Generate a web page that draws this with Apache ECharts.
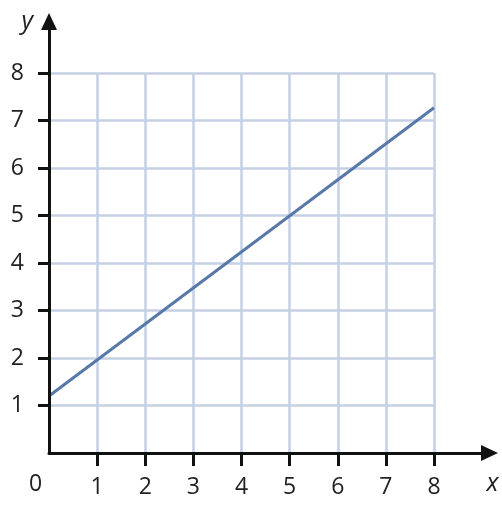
<!DOCTYPE html>
<html>
<head>
<meta charset="utf-8">
<script src="https://cdn.jsdelivr.net/npm/echarts@6/dist/echarts.min.js"></script>
<style>html,body{margin:0;padding:0;background:#fff}#c{width:502px;height:512px}</style>
</head>
<body>
<div id="c"></div>
<script>
// Data
var xValues = [0, 8];
var yValues = [1.2, 7.27];
var xTicks = [1, 2, 3, 4, 5, 6, 7, 8];
var yTicks = [1, 2, 3, 4, 5, 6, 7, 8];
var originLabel = '0';
var xName = 'x';
var yName = 'y';

var FONT = '"Open Sans", "DejaVu Sans", sans-serif';
var gridColor = '#c5d0e4';
var lineColor = '#5878aa';
var axisColor = '#111';

var chart = echarts.init(document.getElementById('c'), null, {renderer: 'canvas'});
var unitX = 385 / 8;
var unitY = 380 / 8;
var xMaxB = 440.5 / unitX;
var yMaxB = 431.5 / unitY;

var lineData = xValues.map(function (x, i) { return [x, yValues[i]]; });

chart.setOption({
  animation: false,
  backgroundColor: '#fff',
  grid: [
    {left: 49, top: 73, width: 385, height: 380},
    {left: 49, top: 21.5, width: 440.5, height: 431.5}
  ],
  xAxis: [
    {
      gridIndex: 0, type: 'value', min: 0, max: 8, interval: 1,
      axisLine: {show: false}, axisTick: {show: false}, axisLabel: {show: false},
      splitLine: {show: true, lineStyle: {color: gridColor, width: 2.5}}
    },
    {
      gridIndex: 1, type: 'value', min: 0, max: xMaxB, z: 5,
      name: xName, nameLocation: 'end', nameGap: 0,
      nameTextStyle: {fontFamily: FONT, fontSize: 25, fontStyle: 'italic', color: '#222',
        align: 'center', verticalAlign: 'top', padding: [18, 0, 0, 6]},
      axisLine: {show: true, symbol: ['none', 'triangle'], symbolSize: [16, 17],
        lineStyle: {color: axisColor, width: 3}},
      axisTick: {show: true, customValues: xTicks, length: 13, inside: false,
        lineStyle: {color: axisColor, width: 3}},
      axisLabel: {show: true, customValues: xTicks, margin: 23, fontFamily: FONT,
        fontSize: 23, color: '#222'},
      splitLine: {show: false}
    }
  ],
  yAxis: [
    {
      gridIndex: 0, type: 'value', min: 0, max: 8, interval: 1,
      axisLine: {show: false}, axisTick: {show: false}, axisLabel: {show: false},
      splitLine: {show: true, lineStyle: {color: gridColor, width: 2.5}}
    },
    {
      gridIndex: 1, type: 'value', min: 0, max: yMaxB, z: 5,
      name: yName, nameLocation: 'end', nameGap: 0,
      nameTextStyle: {fontFamily: FONT, fontSize: 25, fontStyle: 'italic', color: '#222',
        align: 'right', verticalAlign: 'middle', padding: [0, 16, 8, 0]},
      axisLine: {show: true, symbol: ['none', 'triangle'], symbolSize: [16, 17],
        lineStyle: {color: axisColor, width: 3}},
      axisTick: {show: true, customValues: yTicks, length: 11, inside: false,
        lineStyle: {color: axisColor, width: 3}},
      axisLabel: {show: true, customValues: yTicks, margin: 25, fontFamily: FONT,
        fontSize: 23, color: '#222'},
      splitLine: {show: false}
    }
  ],
  graphic: [
    {type: 'text', left: 29, top: 473, z: 10,
      style: {text: originLabel, font: '23px ' + FONT, fill: '#222'}}
  ],
  series: [
    {
      type: 'line', xAxisIndex: 0, yAxisIndex: 0, data: lineData,
      showSymbol: false, z: 3,
      lineStyle: {color: lineColor, width: 3}
    }
  ]
});
</script>
</body>
</html>
